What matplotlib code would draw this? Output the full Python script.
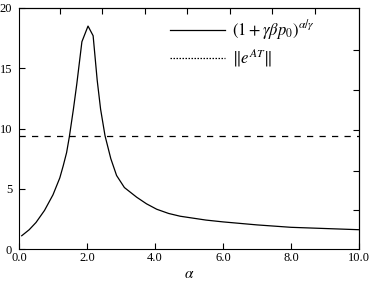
import matplotlib
matplotlib.use("Agg")
import matplotlib.pyplot as plt
from matplotlib.lines import Line2D

plt.rcParams['font.family'] = ['Liberation Serif', 'DejaVu Serif']
plt.rcParams['mathtext.fontset'] = 'stix'

# curve
alpha = [0.08, 0.3, 0.5, 0.75, 1.0, 1.2, 1.3, 1.4, 1.48, 1.6, 1.7, 1.85, 2.03,
         2.18, 2.3, 2.4, 2.53, 2.7, 2.87, 3.1, 3.46, 3.75, 4.05, 4.4, 4.74,
         5.5, 6.0, 7.0, 8.0, 9.0, 10.0]
growth = [1.1, 1.6, 2.2, 3.2, 4.5, 5.9, 6.9, 8.0, 9.3, 11.6, 13.7, 17.2, 18.5,
          17.7, 14.0, 11.6, 9.4, 7.5, 6.1, 5.1, 4.3, 3.75, 3.3, 2.95, 2.72,
          2.4, 2.25, 2.0, 1.8, 1.7, 1.6]
norm_eat = 9.4

x_ticks = [0, 2, 4, 6, 8, 10]
x_labels = ['0.0', '2.0', '4.0', '6.0', '8.0', '10.0']
y_ticks = [0, 5, 10, 15, 20]
top_ticks = [1.2, 2.45, 3.7, 4.95, 6.2, 7.45, 8.7]
right_ticks = [3.2, 6.5, 9.9, 13.2, 16.5]

fig = plt.figure(figsize=(3.69, 2.82), dpi=100)
ax = fig.add_axes([19 / 369, 33 / 282, 340 / 369, 241 / 282])

ax.plot(alpha, growth, color='black', lw=0.9)
ax.axhline(norm_eat, color='black', lw=0.9, dashes=(5, 5))

ax.set_xlim(0, 10)
ax.set_ylim(0, 20)
ax.set_xticks(x_ticks)
ax.set_xticklabels(x_labels)
ax.set_yticks(y_ticks)
ax.tick_params(direction='in', length=4, width=0.8, labelsize=9, pad=2)
ax.tick_params(axis='y', pad=5)
ax.set_xlabel(r'$\alpha$', fontsize=11, labelpad=3)

# extra ticks on top and right edges
sec_x = ax.secondary_xaxis('top')
sec_x.set_xticks(top_ticks)
sec_x.tick_params(direction='in', length=4, width=0.8, labeltop=False)
sec_y = ax.secondary_yaxis('right')
sec_y.set_yticks(right_ticks)
sec_y.tick_params(direction='in', length=4, width=0.8, labelright=False)

for s in ax.spines.values():
    s.set_linewidth(0.8)

handles = [Line2D([], [], color='black', lw=0.9),
           Line2D([], [], color='black', lw=0.9, ls=(0, (1.2, 1.2)))]
labels = [r'$(1+\gamma\beta p_0)^{\alpha/\gamma}$', r'$\|e^{AT}\|$']
ax.legend(handles, labels, loc='upper left', frameon=False, fontsize=12,
          handlelength=3.3, handletextpad=0.4, labelspacing=0.3,
          bbox_to_anchor=(0.40, 1.02))

fig.savefig('out.png', dpi=100)
